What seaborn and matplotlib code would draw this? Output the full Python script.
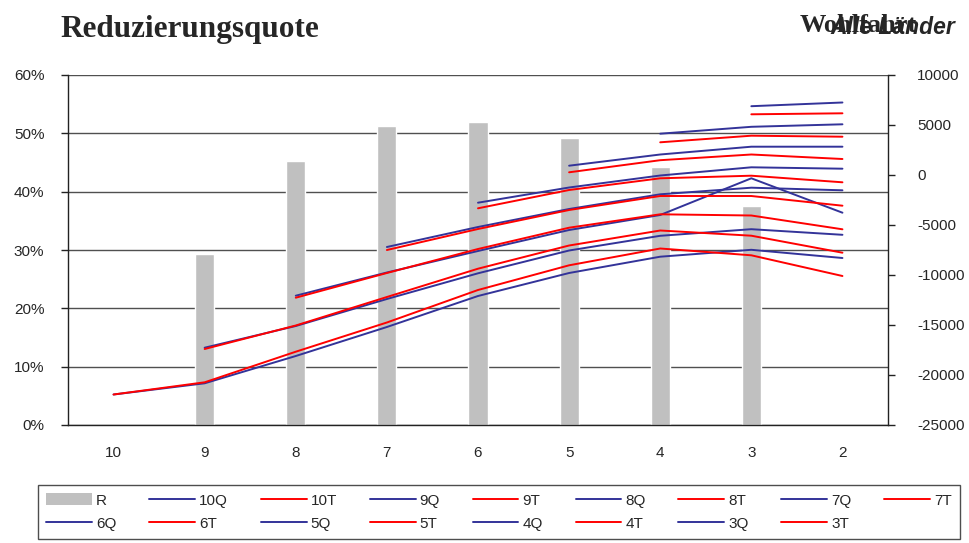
import numpy as np
import pandas as pd
import matplotlib
matplotlib.use("Agg")
import matplotlib.pyplot as plt
from matplotlib.lines import Line2D
from matplotlib.patches import Patch
from matplotlib.ticker import FuncFormatter, MultipleLocator, FixedLocator
import seaborn as sns

nan = np.nan

# Rank groups on the x axis
categories = ["10", "9", "8", "7", "6", "5", "4", "3", "2"]

# Reduction rate (left axis, share)
quote_r = [nan, 0.293, 0.453, 0.512, 0.519, 0.492, 0.442, 0.375, nan]

# Welfare series (right axis); each starts at its own rank group
q10 = [-21950, -20830, -18100, -15200, -12100, -9800, -8170, -7480, -8300]
t10 = [-21950, -20730, -17670, -14750, -11500, -9030, -7350, -8030, -10100]
q9 = [nan, -17270, -15100, -12400, -9830, -7550, -6080, -5420, -5980]
t9 = [nan, -17400, -15050, -12200, -9370, -7050, -5550, -6070, -7770]
q8 = [nan, nan, -12070, -9750, -7600, -5500, -4000, -330, -3770]
t8 = [nan, nan, -12270, -9800, -7400, -5270, -3930, -4050, -5430]
q7 = [nan, nan, nan, -7200, -5200, -3400, -1930, -1270, -1530]
t7 = [nan, nan, nan, -7500, -5400, -3500, -2100, -2100, -3070]
q6 = [nan, nan, nan, nan, -2770, -1250, -50, 770, 630]
t6 = [nan, nan, nan, nan, -3330, -1500, -330, -70, -730]
q5 = [nan, nan, nan, nan, nan, 930, 2050, 2830, 2830]
t5 = [nan, nan, nan, nan, nan, 270, 1480, 2050, 1600]
q4 = [nan, nan, nan, nan, nan, nan, 4130, 4820, 5070]
t4 = [nan, nan, nan, nan, nan, nan, 3270, 3930, 3830]
q3 = [nan, nan, nan, nan, nan, nan, nan, 6880, 7250]
t3 = [nan, nan, nan, nan, nan, nan, nan, 6070, 6170]

series_names = ["10Q", "10T", "9Q", "9T", "8Q", "8T", "7Q", "7T",
                "6Q", "6T", "5Q", "5T", "4Q", "4T", "3Q", "3T"]
series_values = [q10, t10, q9, t9, q8, t8, q7, t7,
                 q6, t6, q5, t5, q4, t4, q3, t3]

BLUE = "#333399"
RED = "#ff0000"
GREY = "#c0c0c0"
palette = {n: (BLUE if n.endswith("Q") else RED) for n in series_names}

sns.set_style("white")
plt.rcParams["font.family"] = ["Liberation Sans", "DejaVu Sans"]
plt.rcParams["axes.unicode_minus"] = False

bars = pd.DataFrame({"Rang": categories, "R": quote_r})
rows = []
for name, vals in zip(series_names, series_values):
    for pos, v in enumerate(vals):
        if not np.isnan(v):
            rows.append({"pos": pos, "value": v, "series": name})
lines = pd.DataFrame(rows)

fig = plt.figure(figsize=(9.69, 5.43), dpi=100)
ax = fig.add_axes([68 / 969, 1 - 425 / 543, 820 / 969, 350 / 543])

sns.barplot(data=bars, x="Rang", y="R", order=categories, color=GREY,
            saturation=1, width=0.21, errorbar=None, ax=ax, zorder=2)

ax2 = ax.twinx()
sns.lineplot(data=lines, x="pos", y="value", hue="series",
             hue_order=series_names, palette=palette, estimator=None,
             legend=False, linewidth=1.4, ax=ax2)

# left axis: reduction rate
ax.set_ylim(0, 0.6)
ax.yaxis.set_major_locator(MultipleLocator(0.1))
ax.yaxis.set_major_formatter(FuncFormatter(lambda v, p: f"{v * 100:.0f}%"))
ax.grid(axis="y", color="#505050", linewidth=1.0, zorder=0)
ax.set_axisbelow(True)

# right axis: welfare
ax2.set_ylim(-25000, 10000)
ax2.yaxis.set_major_locator(MultipleLocator(5000))
ax2.yaxis.set_major_formatter(FuncFormatter(lambda v, p: f"{v:.0f}"))

# x axis: labels at group centres, tick marks between groups
ax.set_xlim(-0.5, len(categories) - 0.5)
ax2.set_xlim(-0.5, len(categories) - 0.5)
ax.xaxis.set_major_locator(FixedLocator(range(len(categories))))
ax.set_xticklabels(categories)
ax.xaxis.set_minor_locator(FixedLocator(np.arange(-0.5, len(categories), 1.0)))
ax.tick_params(axis="x", which="major", length=0, pad=15, labelsize=11)
ax.tick_params(axis="x", which="minor", length=5, width=1, color="#222222")
ax.tick_params(axis="y", length=5, width=1, color="#222222", labelsize=11, pad=12)
ax2.tick_params(axis="y", length=5, width=1, color="#222222", labelsize=11, pad=16)

for a in (ax, ax2):
    a.set_xlabel("")
    a.set_ylabel("")
    a.spines["top"].set_visible(False)
    for s in ("left", "bottom", "right"):
        a.spines[s].set_color("#222222")
        a.spines[s].set_linewidth(1.0)
ax.spines["right"].set_visible(False)
ax2.spines["left"].set_visible(False)
ax2.spines["bottom"].set_visible(False)

# titles
fig.text(60 / 969, 1 - 29 / 543, "Reduzierungsquote", family="Liberation Serif",
         fontweight="bold", fontsize=22.5, va="center", ha="left")
fig.text(800 / 969, 1 - 26 / 543, "Wohlfahrt", family="Liberation Serif",
         fontweight="bold", fontsize=19, va="center", ha="left")
fig.text(955 / 969, 1 - 28 / 543, "Alle Länder", family="Liberation Sans",
         fontweight="bold", fontstyle="italic", fontsize=16.5, va="center", ha="right")

# legend, filled row by row across nine columns
handles = [Patch(facecolor=GREY, edgecolor="none")]
labels = ["R"]
for n in series_names:
    handles.append(Line2D([], [], color=palette[n], linewidth=1.4))
    labels.append(n)
ncol = 9
nrow = int(np.ceil(len(handles) / ncol))
order = []
for c in range(ncol):
    for r in range(nrow):
        i = r * ncol + c
        if i < len(handles):
            order.append(i)
leg = fig.legend([handles[i] for i in order], [labels[i] for i in order],
                 loc="upper left",
                 bbox_to_anchor=(38 / 969, 1 - 485 / 543, 922 / 969, 0.0),
                 mode="expand", ncol=ncol, frameon=True, fancybox=False,
                 edgecolor="#222222", fontsize=11, handlelength=3.0,
                 handleheight=0.8, handletextpad=0.25, columnspacing=1.0,
                 borderpad=0.55, labelspacing=0.6, borderaxespad=0)
leg.get_frame().set_linewidth(1.0)

fig.savefig("out.png", dpi=100)
